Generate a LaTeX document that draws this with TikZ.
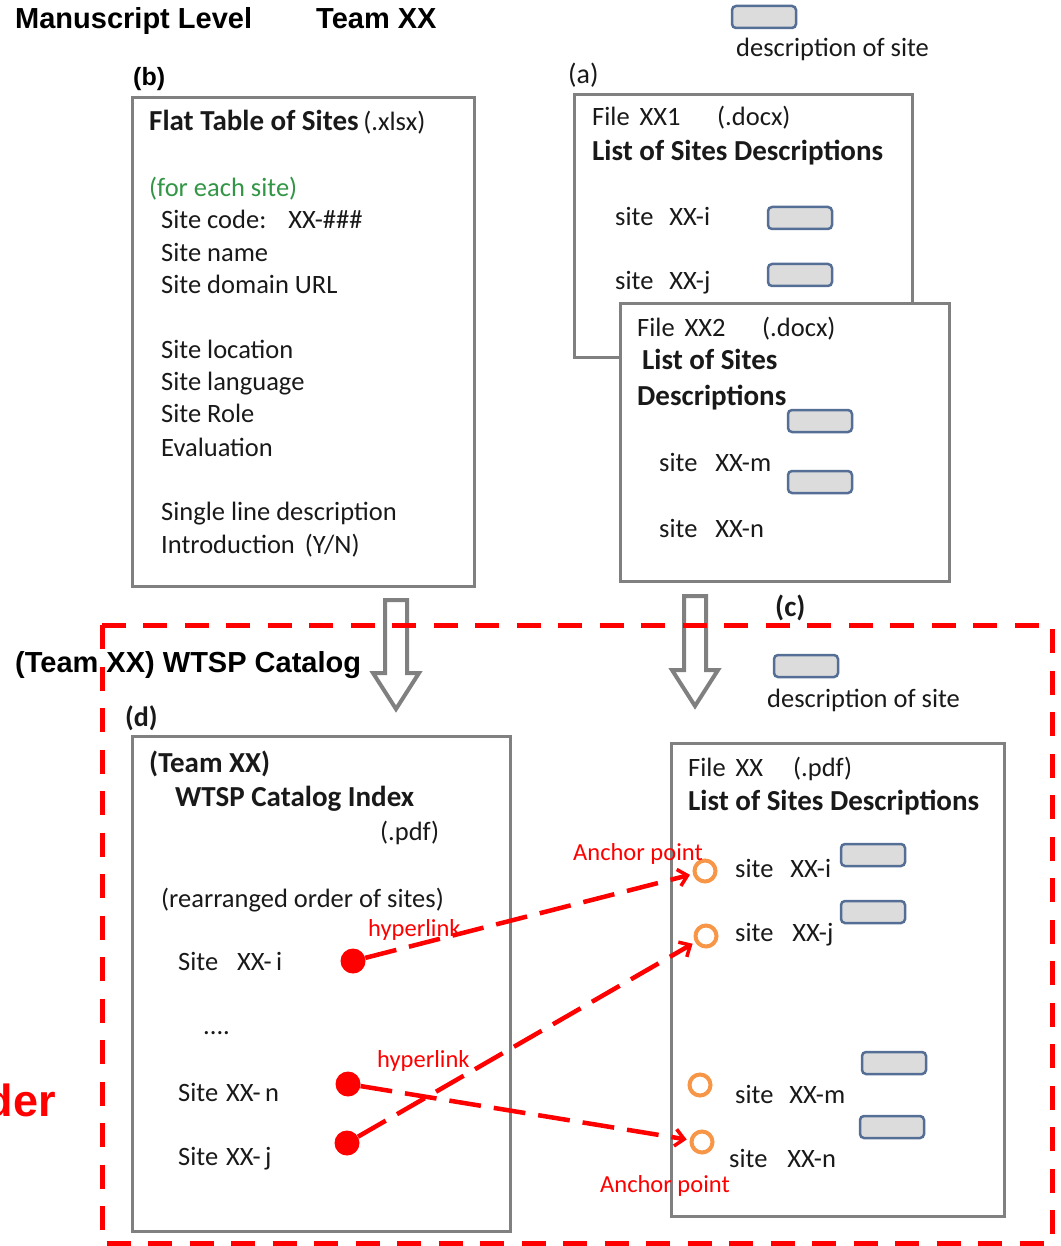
\documentclass[tikz,border=0pt]{standalone}
\usepackage{fontspec}
\setmainfont{Carlito}
\newfontfamily\arialf{Liberation Sans}
\usetikzlibrary{arrows.meta}
\definecolor{boxgray}{RGB}{128,128,128}
\definecolor{descblue}{RGB}{84,110,150}
\definecolor{descfill}{RGB}{220,220,220}
\definecolor{txtc}{RGB}{25,25,25}
\definecolor{greent}{RGB}{50,150,70}
\definecolor{orangec}{RGB}{247,150,70}
\definecolor{redc}{RGB}{255,0,0}
\tikzset{
  box/.style={draw=boxgray, line width=3pt, anchor=north west, inner sep=0pt},
  desc/.style={draw=descblue, fill=descfill, rounded corners=4pt, line width=2.5pt, minimum width=64pt, minimum height=22pt, inner sep=0pt},
  txt/.style={anchor=base west, inner sep=0pt, text=txtc, font=\fontsize{26.5}{30}\selectfont},
  btxt/.style={txt, font=\fontsize{29}{33}\selectfont\bfseries},
  head/.style={anchor=base west, inner sep=0pt, text=black, font=\arialf\fontsize{29}{33}\selectfont\bfseries},
  redlbl/.style={anchor=base west, inner sep=0pt, text=redc, font=\fontsize{24.5}{28}\selectfont},
  anchorpt/.style={circle, draw=orangec, line width=4pt, minimum size=21pt, inner sep=0pt},
  linkdot/.style={circle, fill=redc, minimum size=25pt, inner sep=0pt},
  hyper/.style={draw=redc, line width=4.5pt, dash pattern=on 32pt off 13pt, -{Straight Barb[length=9pt,width=17pt,line width=3.5pt]}, shorten >=3pt},
  hollow/.style={draw=boxgray, line width=4pt, line join=miter},
  region/.style={draw=redc, line width=5pt, dash pattern=on 24pt off 17.5pt}
}
\begin{document}
\begin{tikzpicture}[x=1pt,y=-1pt]
\useasboundingbox (0,0) rectangle (1060,1246);

% headers
\node[head] (hManu) at (15,29) {Manuscript Level};
\node[head] (hTeam) at (316,29) {Team XX};
\node[desc] (legendTop) at (764,17) {};
\node[txt] (legendTopT) at (736,57) {description of site};

% (b) flat table
\node[head, font=\arialf\fontsize{25}{29}\selectfont\bfseries] (lb) at (133,86) {(b)};
\node[box, minimum width=342pt, minimum height=489pt] (boxb) at (131,96) {};
\node[btxt] (b1) at (149,131) {Flat Table of Sites\,\mdseries\fontsize{26.5}{30}\selectfont(.xlsx)};
\node[txt, text=greent] (b2) at (149,197) {(for each site)};
\node[txt] (b3) at (161,229) {Site code:\hspace{22pt}XX-\#\#\#};
\node[txt] (b4) at (161,262) {Site name};
\node[txt] (b5) at (161,294) {Site domain URL};
\node[txt] (b6) at (161,358) {Site location};
\node[txt] (b7) at (161,390) {Site language};
\node[txt] (b8) at (161,422) {Site Role};
\node[txt] (b9) at (161,456) {Evaluation};
\node[txt] (b10) at (161,520) {Single line description};
\node[txt] (b11) at (161,553) {Introduction\hspace{10pt}(Y/N)};

% (a) files
\node[txt, font=\fontsize{28}{32}\selectfont] (la) at (568,84) {(a)};
\node[box, minimum width=338pt, minimum height=263pt] (boxa1) at (573,93) {};
\node[txt] (a1f) at (592,126) {File\hspace{10pt}XX1};
\node[txt] (a1x) at (717,126) {(.docx)};
\node[btxt] (a1t) at (592,161) {List of Sites Descriptions};
\node[txt] (a1i) at (615,226) {site\hspace{16pt}XX-i};
\node[desc] (a1ri) at (800,218) {};
\node[txt] (a1j) at (615,290) {site\hspace{16pt}XX-j};
\node[desc] (a1rj) at (800,275) {};

\node[box, fill=white, minimum width=329pt, minimum height=278pt] (boxa2) at (619,302) {};
\node[txt] (a2f) at (637,336) {File\hspace{10pt}XX2};
\node[txt] (a2x) at (762,336) {(.docx)};
\node[btxt] (a2t) at (642,369) {List of Sites};
\node[btxt] (a2t2) at (637,405) {Descriptions};
\node[desc] (a2r1) at (820,421) {};
\node[txt] (a2m) at (659,471) {site\hspace{18pt}XX-m};
\node[desc] (a2r2) at (820,482) {};
\node[txt] (a2n) at (659,537) {site\hspace{18pt}XX-n};

% hollow arrows
\draw[hollow] (385,600) -- (407,600) -- (407,673) -- (419,673) -- (396,709) -- (373,673) -- (385,673) -- cycle;
\draw[hollow] (684,596) -- (706,596) -- (706,670) -- (718,670) -- (695,706) -- (672,670) -- (684,670) -- cycle;

% catalog region
\draw[region] (102,625) rectangle (1052,1243);
\node[txt, font=\fontsize{29}{33}\selectfont\bfseries] (lc) at (775,616) {(c)};
\node[head] (hCat) at (15,672) {(Team XX) WTSP Catalog};
\node[desc] (legendBot) at (806,666) {};
\node[txt] (legendBotT) at (767,707) {description of site};
\node[txt, font=\fontsize{28}{32}\selectfont\bfseries] (ld) at (125,726) {(d)};

% (d) index
\node[box, minimum width=378pt, minimum height=495pt] (boxd) at (131,735) {};
\node[btxt] (d1) at (149,772) {(Team XX)};
\node[btxt] (d2) at (175,806) {WTSP Catalog Index};
\node[txt] (d3) at (380,840) {(.pdf)};
\node[txt] (d4) at (161,907) {(rearranged order of sites)};
\node[txt] (d5) at (178,970) {Site\hspace{19pt}XX-\,i};
\node[txt] (d6) at (203,1034) {....};
\node[txt] (d7) at (178,1101) {Site\hspace{8pt}XX-\,n};
\node[txt] (d8) at (178,1165) {Site\hspace{8pt}XX-\,j};

% (e) pdf file
\node[box, minimum width=333pt, minimum height=473pt] (boxe) at (670,742) {};
\node[txt] (e1) at (688,776) {File\hspace{10pt}XX};
\node[txt] (e1x) at (793,776) {(.pdf)};
\node[btxt] (e2) at (688,810) {List of Sites Descriptions};
\node[txt] (ei) at (735,877) {site\hspace{17pt}XX-i};
\node[desc] (eri) at (873,855) {};
\node[txt] (ej) at (735,941) {site\hspace{19pt}XX-j};
\node[desc] (erj) at (873,912) {};
\node[desc] (erm) at (894,1063) {};
\node[txt] (em) at (735,1103) {site\hspace{16pt}XX-m};
\node[desc] (ern) at (892,1127) {};
\node[txt] (en) at (729,1167) {site\hspace{20pt}XX-n};

% anchors and hyperlinks
\node[anchorpt] (ci) at (705,871) {};
\node[anchorpt] (cj) at (706,936) {};
\node[anchorpt] (cm) at (700,1085) {};
\node[anchorpt] (cn) at (702,1142) {};
\node[linkdot] (pi) at (353,961) {};
\node[linkdot] (pn) at (348,1084) {};
\node[linkdot] (pj) at (347,1143) {};
\draw[hyper] (pi) -- (ci);
\draw[hyper] (pn) -- (cn);
\draw[hyper] (pj) -- (cj);
\node[redlbl] (ap1) at (573,860) {Anchor point};
\node[redlbl] (ap2) at (600,1192) {Anchor point};
\node[redlbl] (hl1) at (368,936) {hyperlink};
\node[redlbl] (hl2) at (377,1067) {hyperlink};

% cut-off label at left edge (as in the reference)
\node[anchor=base east, inner sep=0pt, text=redc, font=\arialf\fontsize{45}{49}\selectfont\bfseries] (der) at (56,1116) {der};
\end{tikzpicture}
\end{document}
